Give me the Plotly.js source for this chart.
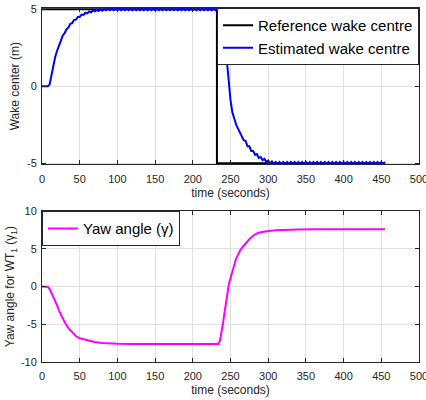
<!DOCTYPE html>
<html>
<head>
<meta charset="utf-8">
<script src="https://cdn.plot.ly/plotly-3.0.1.min.js"></script>
<style>html,body{margin:0;padding:0;background:#fff;}#chart{width:426px;height:400px;}</style>
</head>
<body>
<div id="chart"></div>
<script>
// ---- data ----
const refTime = [0, 232, 232, 455];
const refWake = [5, 5, -5, -5];

const estTime = [
  0,2.5,5,7.5,10,12.5,15,17.5,20,22.5,
  25,27.5,30,32.5,35,37.5,40,42.5,45,47.5,
  50,52.5,55,57.5,60,62.5,65,67.5,70,72.5,
  75,77.5,80,82.5,85,87.5,90,92.5,95,97.5,
  100,102.5,105,107.5,110,112.5,115,117.5,120,122.5,
  125,127.5,130,132.5,135,137.5,140,142.5,145,147.5,
  150,152.5,155,157.5,160,162.5,165,167.5,170,172.5,
  175,177.5,180,182.5,185,187.5,190,192.5,195,197.5,
  200,202.5,205,207.5,210,212.5,215,217.5,220,222.5,
  225,227.5,230,232.5,235,237.5,240,242.5,245,247.5,
  250,252.5,255,257.5,260,262.5,265,267.5,270,272.5,
  275,277.5,280,282.5,285,287.5,290,292.5,295,297.5,
  300,302.5,305,307.5,310,312.5,315,317.5,320,322.5,
  325,327.5,330,332.5,335,337.5,340,342.5,345,347.5,
  350,352.5,355,357.5,360,362.5,365,367.5,370,372.5,
  375,377.5,380,382.5,385,387.5,390,392.5,395,397.5,
  400,402.5,405,407.5,410,412.5,415,417.5,420,422.5,
  425,427.5,430,432.5,435,437.5,440,442.5,445,447.5,
  450,452.5,455
];
const estWake = [
  0,0,0,0,0.1,0.75,1.4,1.9,2.3,2.7,
  2.95,3.3,3.45,3.7,3.8,4.05,4.1,4.3,4.32,4.5,
  4.5,4.65,4.63,4.77,4.73,4.85,4.8,4.92,4.86,4.96,
  4.89,4.99,4.91,5.02,4.93,5.03,4.94,5.04,4.94,5.04,
  4.94,5.04,4.94,5.04,4.94,5.04,4.94,5.04,4.94,5.04,
  4.94,5.04,4.94,5.04,4.94,5.04,4.94,5.04,4.94,5.04,
  4.94,5.04,4.94,5.04,4.94,5.04,4.94,5.04,4.94,5.04,
  4.94,5.04,4.94,5.04,4.94,5.04,4.94,5.04,4.94,5.04,
  4.94,5.04,4.94,5.04,4.94,5.04,4.94,5.04,4.94,5.04,
  4.94,5.04,4.94,5.04,5.0,4.5,4.0,3.1,1.7,0.2,
  -0.9,-1.7,-2.2,-2.5,-2.75,-3.0,-3.15,-3.5,-3.55,-3.9,
  -3.9,-4.2,-4.2,-4.45,-4.4,-4.65,-4.6,-4.8,-4.72,-4.92,
  -4.82,-5.02,-4.88,-5.05,-4.92,-5.06,-4.92,-5.06,-4.92,-5.06,
  -4.92,-5.06,-4.92,-5.06,-4.92,-5.06,-4.92,-5.06,-4.92,-5.06,
  -4.92,-5.06,-4.92,-5.06,-4.92,-5.06,-4.92,-5.06,-4.92,-5.06,
  -4.92,-5.06,-4.92,-5.06,-4.92,-5.06,-4.92,-5.06,-4.92,-5.06,
  -4.92,-5.06,-4.92,-5.06,-4.92,-5.06,-4.92,-5.06,-4.92,-5.06,
  -4.92,-5.06,-4.92,-5.06,-4.92,-5.06,-4.92,-5.06,-4.92,-5.06,
  -4.92,-5.06,-4.92
];

const yawTime = [0,5,8,10,12.5,15,17.5,20,22.5,25,27.5,30,35,40,45,50,60,70,80,90,100,120,150,200,234,236,238,240,242,244,246,248,250,252,254,257,260,263,267,271,275,280,285,290,298,310,320,340,360,455];
const yawAngle = [0,0,-0.05,-0.3,-0.8,-1.35,-1.9,-2.5,-3.15,-3.75,-4.25,-4.7,-5.5,-6.1,-6.55,-6.85,-7.15,-7.35,-7.47,-7.54,-7.58,-7.6,-7.6,-7.6,-7.6,-7.2,-6.2,-4.9,-3.5,-2.0,-0.5,0.4,1.1,1.9,2.65,3.55,4.25,4.85,5.35,5.85,6.3,6.75,7.05,7.2,7.35,7.47,7.53,7.58,7.6,7.6];

const xTicks = [0,50,100,150,200,250,300,350,400,450,500];
const wakeTicks = [-5,0,5];
const wakeTickText = ['-5','0','5'];
const yawTicks = [-10,-5,0,5,10];
const yawTickText = ['-10','-5','0','5','10'];

const legendNames = ['Reference wake centre','Estimated wake centre','Yaw angle (γ)'];

// ---- styling ----
const FONT = 'Liberation Sans, Arial, Helvetica, sans-serif';
const INK = '#262626';
const GRID = '#e0e0e0';

function xa(anchor){
  return {
    anchor: anchor, domain:[0,1], range:[0,500], tickmode:'array', tickvals:xTicks,
    showline:true, linecolor:INK, linewidth:1, mirror:'ticks', ticks:'inside', ticklen:4, tickcolor:INK,
    showgrid:true, gridcolor:GRID, zeroline:false, ticklabeloverflow:'allow', ticklabelstandoff:4,
    tickfont:{family:FONT,size:11,color:INK},
    title:{text:'time (seconds)', font:{family:FONT,size:12,color:INK}, standoff:4}
  };
}

const traces = [
  {x:refTime, y:refWake, type:'scatter', mode:'lines', name:legendNames[0],
   line:{color:'#000000', width:2}, xaxis:'x', yaxis:'y', legend:'legend'},
  {x:estTime, y:estWake, type:'scatter', mode:'lines', name:legendNames[1],
   line:{color:'#0000ff', width:2}, xaxis:'x', yaxis:'y', legend:'legend'},
  {x:yawTime, y:yawAngle, type:'scatter', mode:'lines', name:legendNames[2],
   line:{color:'#ff00ff', width:2}, xaxis:'x2', yaxis:'y2', legend:'legend2'}
];

const layout = {
  width:426, height:400,
  margin:{l:42, r:7, t:8, b:38},
  paper_bgcolor:'#ffffff', plot_bgcolor:'#ffffff',
  font:{family:FONT, size:11, color:INK},
  showlegend:true,
  xaxis: xa('y'),
  xaxis2: xa('y2'),
  yaxis:{
    anchor:'x', domain:[0.558,1], range:[-5.08,5.08], tickmode:'array', tickvals:wakeTicks, ticktext:wakeTickText,
    showline:true, linecolor:INK, linewidth:1, mirror:'ticks', ticks:'inside', ticklen:4, tickcolor:INK,
    showgrid:true, gridcolor:GRID, zeroline:false, ticklabelstandoff:2,
    tickfont:{family:FONT,size:11,color:INK},
    title:{text:'Wake center (m)', font:{family:FONT,size:12,color:INK}, standoff:4}
  },
  yaxis2:{
    anchor:'x2', domain:[0,0.426], range:[-10,10], tickmode:'array', tickvals:yawTicks, ticktext:yawTickText,
    showline:true, linecolor:INK, linewidth:1, mirror:'ticks', ticks:'inside', ticklen:4, tickcolor:INK,
    showgrid:true, gridcolor:GRID, zeroline:false, ticklabelstandoff:2,
    tickfont:{family:FONT,size:11,color:INK},
    title:{text:'Yaw angle for WT<sub>1</sub> (γ<sub>1</sub>)', font:{family:FONT,size:12,color:INK}, standoff:3}
  },
  legend:{
    x:1, xanchor:'right', y:1, yanchor:'top',
    bgcolor:'#ffffff', bordercolor:INK, borderwidth:1,
    font:{family:FONT,size:15,color:'#000000'}, tracegroupgap:0, itemwidth:30
  },
  legend2:{
    x:0, xanchor:'left', y:0.426, yanchor:'top',
    bgcolor:'#ffffff', bordercolor:INK, borderwidth:1,
    font:{family:FONT,size:15,color:'#000000'}, itemwidth:30
  }
};

Plotly.newPlot('chart', traces, layout, {staticPlot:true, displayModeBar:false});
</script>
</body>
</html>
